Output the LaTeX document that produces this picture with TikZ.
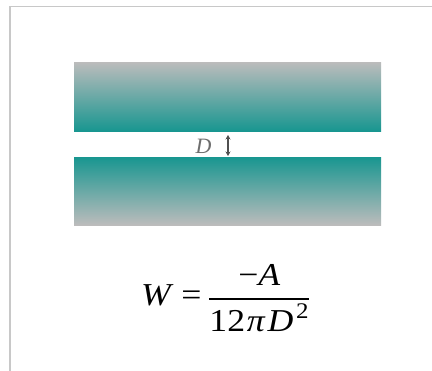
\documentclass[tikz,border=0pt]{standalone}
\usepackage{amsmath}
\usepackage{graphicx}
\usepackage{fontspec}
\setmainfont{Liberation Serif}
\usetikzlibrary{arrows.meta}
\definecolor{frameGray}{RGB}{200,200,200}
\definecolor{barGray}{RGB}{188,188,188}
\definecolor{barTeal}{RGB}{24,150,144}
\definecolor{labGray}{RGB}{110,110,110}
\definecolor{tipGray}{RGB}{80,80,80}
\newcommand{\mv}[1]{\text{\itshape #1}} % italic letter from the text font
\tikzset{
  slabtop/.style = {top color=barGray, bottom color=barTeal},
  slabbot/.style = {top color=barTeal, bottom color=barGray},
  gap/.style     = {draw=tipGray, line width=1.2pt,
                    {Stealth[length=4.5pt,width=5pt]}-{Stealth[length=4.5pt,width=5pt]}}
}

\begin{document}
\begin{tikzpicture}[x=1bp,y=-1bp]
\useasboundingbox (0,0) rectangle (432,371);
\draw[frameGray, line width=1.4bp] (10,372) -- (10,6.5) -- (433,6.5); % page frame
\shade[slabtop] (74,62) rectangle (381,131);   % upper slab
\shade[slabbot] (74,157) rectangle (381,225);  % lower slab
\node[text=labGray, inner sep=0pt, font=\fontsize{22}{26}\selectfont] (D) at (203.5,146.5) {\itshape D};
\coordinate (up) at (228,135);
\coordinate (dn) at (228,156);
\draw[gap] (up) -- (dn); % separation
\node[anchor=west, inner sep=0pt, font=\fontsize{32}{38}\selectfont] (W) at (141,298)
  {\scalebox{1.12}[1]{\itshape W\hspace{9.4pt}\upshape=\hspace{5.9pt}%
   $\genfrac{}{}{1.3pt}{0}{\raisebox{3pt}{\text{\textminus}\mv{A}}}%
     {\raisebox{-4pt}{$\text{12}\kern1.5pt\mv{π}\kern2.5pt\mv{D}^{\kern2.5pt\text{2}}$}}$}};
\end{tikzpicture}
\end{document}
